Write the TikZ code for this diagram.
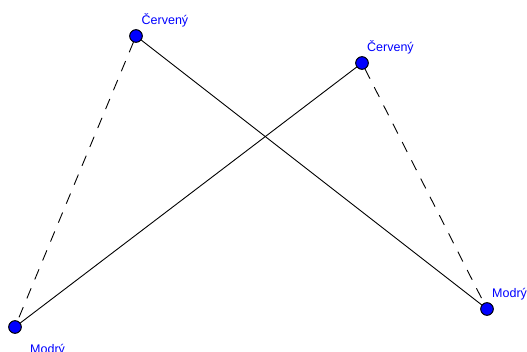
\documentclass[tikz,border=0pt]{standalone}
\usepackage{fontspec}
\setmainfont{Liberation Sans}
\begin{document}
\begin{tikzpicture}[x=1pt,y=1pt,
  pt/.style={circle,draw=black,line width=0.8pt,fill=blue,inner sep=0pt,minimum size=12.5pt},
  lbl/.style={anchor=base west,text=blue,font=\fontsize{12.5}{14}\selectfont,inner sep=0pt},
  conn/.style={line width=0.9pt},
  dconn/.style={line width=0.9pt,dash pattern=on 11pt off 9.5pt}]
\useasboundingbox (0,0) rectangle (527,351);
\node[pt] (A) at (136,315) {};
\node[pt] (B) at (362,288) {};
\node[pt] (C) at (15,24) {};
\node[pt] (D) at (487,42) {};
\draw[conn] (A) -- (D);
\draw[conn] (B) -- (C);
\draw[dconn] (A) -- (C);
\draw[dconn] (B) -- (D);
\node[pt] at (A) {};
\node[pt] at (B) {};
\node[pt] at (C) {};
\node[pt] at (D) {};
\node[lbl] (la) at (141.5,326) {Červený};
\node[lbl] (lb) at (367,299) {Červený};
\node[lbl] (lc) at (30,-2) {Modrý};
\node[lbl] (ld) at (492,54) {Modrý};
\end{tikzpicture}
\end{document}
